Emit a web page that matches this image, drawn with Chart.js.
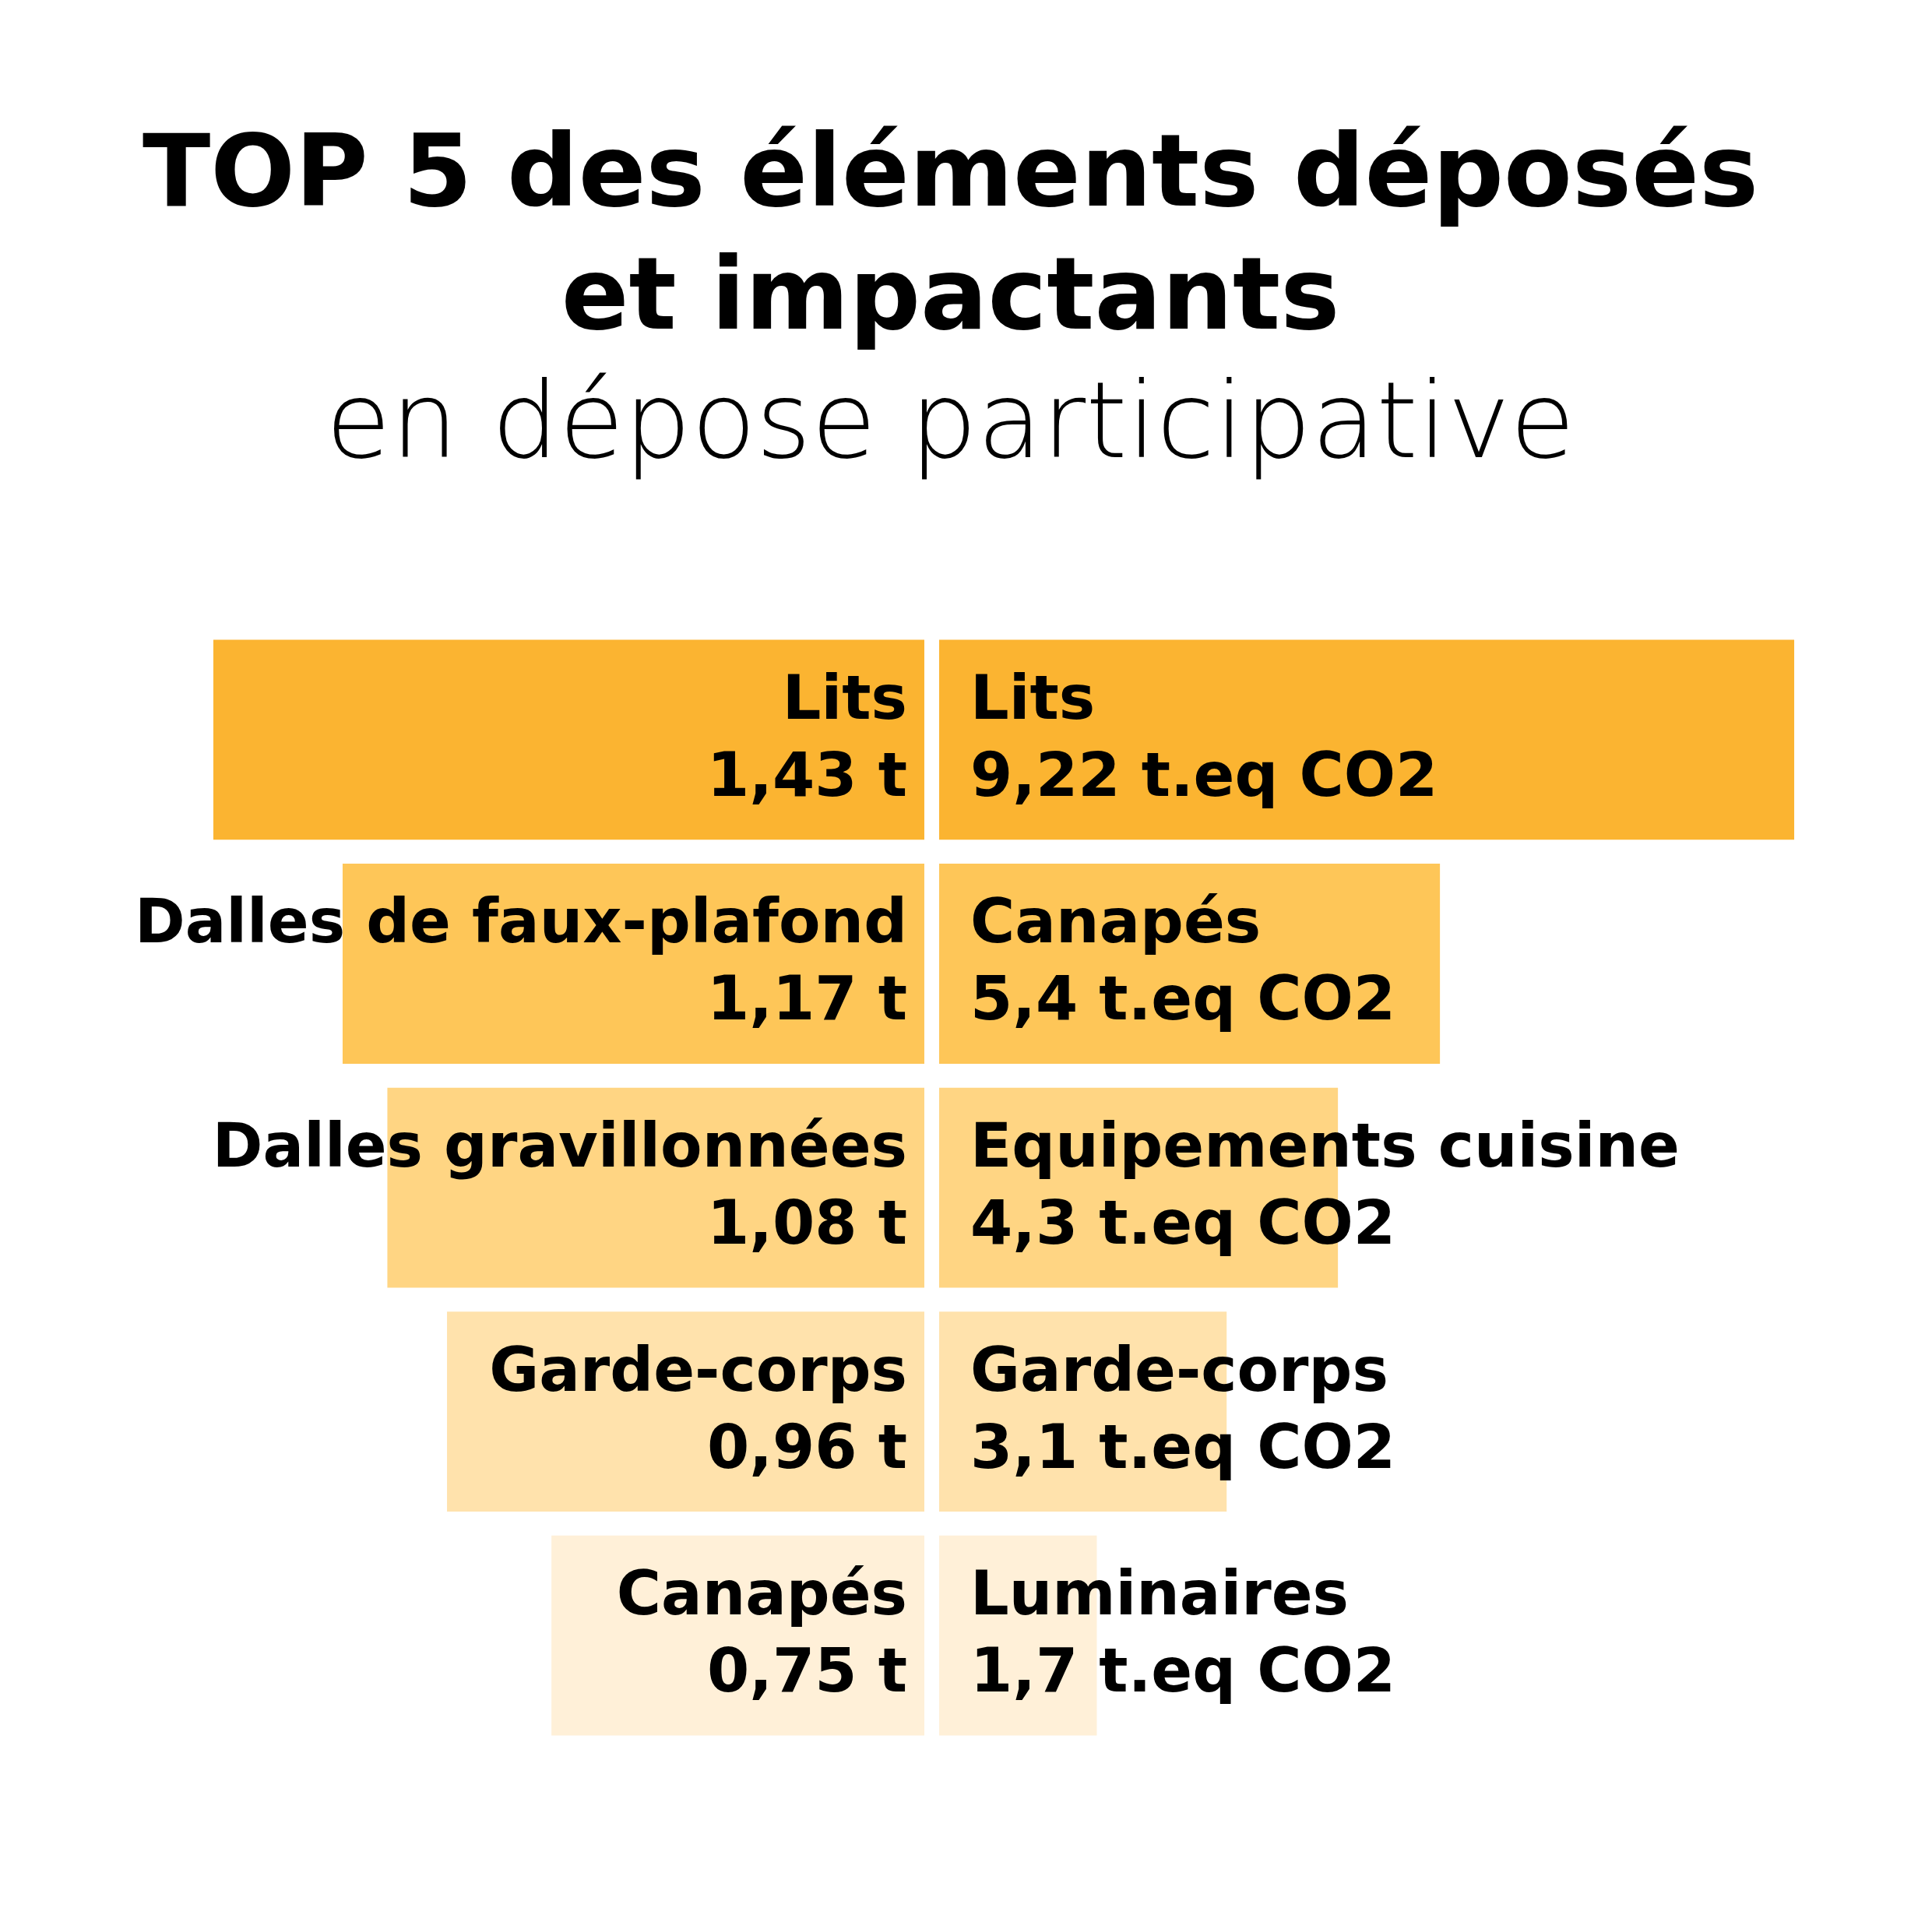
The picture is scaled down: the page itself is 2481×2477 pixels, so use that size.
<!DOCTYPE html>
<html>
<head>
<meta charset="utf-8">
<script src="https://cdn.jsdelivr.net/npm/chart.js@4.4.1/dist/chart.umd.min.js"></script>
<style>
    html, body { margin: 0; padding: 0; background: #ffffff; }
    #wrap { width: 2481px; height: 2477px; }
</style>
</head>
<body>
<div id="wrap"><canvas id="topChart"></canvas></div>
<script>
const rows = ['1', '2', '3', '4', '5'];
const leftItems = ['Lits', 'Dalles de faux-plafond', 'Dalles gravillonnées', 'Garde-corps', 'Canapés'];
const leftTonnes = [1.43, 1.17, 1.08, 0.96, 0.75];
const rightItems = ['Lits', 'Canapés', 'Equipements cuisine', 'Garde-corps', 'Luminaires'];
const rightCO2 = [9.22, 5.4, 4.3, 3.1, 1.7];
const rowColors = ['#FBB431', '#FEC658', '#FFD583', '#FFE2AC', '#FFF0D8'];

const fr = v => v.toString().replace('.', ',');

// draws the two text lines on each bar
const barLabels = {
    id: 'barLabels',
    afterDatasetsDraw(chart) {
        const ctx = chart.ctx;
        const left = chart.getDatasetMeta(0).data;
        const right = chart.getDatasetMeta(1).data;
        ctx.save();
        ctx.fillStyle = '#000000';
        ctx.font = 'bold 78px "DejaVu Sans"';
        ctx.textBaseline = 'alphabetic';
        left.forEach((bar, i) => {
            ctx.textAlign = 'right';
            ctx.fillText(leftItems[i], bar.base - 22, bar.y - 27);
            ctx.fillText(fr(leftTonnes[i]) + ' t', bar.base - 22, bar.y + 72);
        });
        right.forEach((bar, i) => {
            ctx.textAlign = 'left';
            ctx.fillText(rightItems[i], bar.base + 40, bar.y - 27);
            ctx.fillText(fr(rightCO2[i]) + ' t.eq CO2', bar.base + 40, bar.y + 72);
        });
        ctx.restore();
    }
};

const ctx = document.getElementById('topChart').getContext('2d');
new Chart(ctx, {
    type: 'bar',
    data: {
        labels: rows,
        datasets: [
            {
                label: 'Tonnes',
                data: leftTonnes,
                xAxisID: 'xL',
                backgroundColor: rowColors,
                grouped: false,
                barPercentage: 0.893,
                categoryPercentage: 1
            },
            {
                label: 't.eq CO2',
                data: rightCO2,
                xAxisID: 'xR',
                backgroundColor: rowColors,
                grouped: false,
                barPercentage: 0.893,
                categoryPercentage: 1
            }
        ]
    },
    options: {
        indexAxis: 'y',
        responsive: true,
        maintainAspectRatio: false,
        animation: false,
        layout: {
            padding: { top: 0, right: 40, bottom: 233, left: 0 }
        },
        scales: {
            y: { display: false },
            // left half, growing leftwards from the middle gap
            xL: { type: 'linear', display: false, reverse: true, min: -1.9641, max: 1.8591 },
            // right half, growing rightwards
            xR: { type: 'linear', display: false, min: -10.127, max: 10.370 }
        },
        plugins: {
            legend: { display: false },
            tooltip: { enabled: false },
            title: {
                display: true,
                text: ['TOP 5 des éléments déposés', 'et impactants'],
                color: '#000000',
                font: { family: '"DejaVu Sans"', size: 128, weight: 'bold', lineHeight: 1.234 },
                padding: { top: 152, bottom: 0 }
            },
            subtitle: {
                display: true,
                text: 'en dépose participative',
                color: '#000000',
                font: { family: '"DejaVu Sans"', size: 136, weight: '300', lineHeight: 1.2 },
                padding: { top: 2, bottom: 173 }
            }
        }
    },
    plugins: [barLabels]
});
</script>
</body>
</html>
